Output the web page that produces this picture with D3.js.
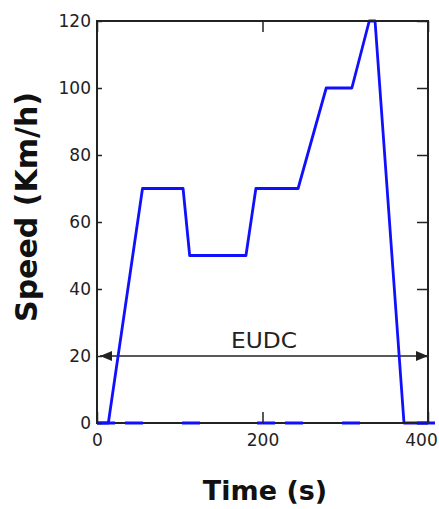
<!DOCTYPE html>
<html>
<head>
<meta charset="utf-8">
<script src="https://cdn.jsdelivr.net/npm/d3@7"></script>
<style>
  html, body { margin: 0; padding: 0; background: #fff; }
  svg { display: block; font-family: "DejaVu Sans", sans-serif; }
</style>
</head>
<body>
<svg id="chart" width="439" height="509"></svg>
<script>
// ---- data ----
const timeS  = [0, 13.7, 55, 104, 112, 180, 192, 243, 277, 308, 329, 336, 371, 400];
const speedKmh = [0, 0, 70, 70, 50, 50, 70, 70, 100, 100, 120, 120, 0, 0];
const xTicks = [0, 200, 400];
const yTicks = [0, 20, 40, 60, 80, 100, 120];
const arrowSpeed = 20;
const arrowLabel = "EUDC";
const xTitle = "Time (s)";
const yTitle = "Speed (Km/h)";

// ---- layout ----
const svg = d3.select("#chart");
const L = 97, R = 428, T = 21, B = 423;
const x = d3.scaleLinear().domain([0, 400]).range([L, R]);
const y = d3.scaleLinear().domain([0, 120]).range([B, T]);
const ink = "#222";

// arrow markers
const defs = svg.append("defs");
defs.append("marker").attr("id", "ahEnd")
  .attr("viewBox", "0 0 12 10").attr("refX", 12).attr("refY", 5)
  .attr("markerWidth", 12).attr("markerHeight", 10)
  .attr("markerUnits", "userSpaceOnUse").attr("orient", "auto")
  .append("path").attr("d", "M0,0L12,5L0,10Z").attr("fill", ink);
defs.append("marker").attr("id", "ahStart")
  .attr("viewBox", "0 0 12 10").attr("refX", 0).attr("refY", 5)
  .attr("markerWidth", 12).attr("markerHeight", 10)
  .attr("markerUnits", "userSpaceOnUse").attr("orient", "auto")
  .append("path").attr("d", "M12,0L0,5L12,10Z").attr("fill", ink);

// EUDC double arrow
svg.append("line")
  .attr("x1", x(0) + 3).attr("x2", x(400))
  .attr("y1", y(arrowSpeed)).attr("y2", y(arrowSpeed))
  .attr("stroke", ink).attr("stroke-width", 1.6)
  .attr("marker-start", "url(#ahStart)")
  .attr("marker-end", "url(#ahEnd)");

svg.append("text")
  .attr("x", x(200) + 1.5).attr("y", y(arrowSpeed) - 8)
  .attr("text-anchor", "middle")
  .attr("font-size", 21).attr("fill", ink)
  .attr("textLength", 66).attr("lengthAdjust", "spacingAndGlyphs")
  .text(arrowLabel);

// speed trace
const pts = timeS.map((t, i) => [t, speedKmh[i]]);
svg.append("path")
  .datum(pts)
  .attr("fill", "none")
  .attr("stroke", "#1010ff")
  .attr("stroke-width", 2.8)
  .attr("stroke-linejoin", "round")
  .attr("d", d3.line().x(d => x(d[0])).y(d => y(d[1])));

// frame
svg.append("rect")
  .attr("x", L).attr("y", T).attr("width", R - L).attr("height", B - T)
  .attr("fill", "none").attr("stroke", ink).attr("stroke-width", 2);

// blue zero-level trace peeking over the x axis
svg.append("line")
  .attr("x1", x(0)).attr("x2", x(400) + 7)
  .attr("y1", y(0)).attr("y2", y(0))
  .attr("stroke", "#1010ff").attr("stroke-width", 2.8)
  .attr("stroke-dasharray", "18,39,18,57,18,10")
  .attr("stroke-dashoffset", 132);

// axes
const styleAxis = g => {
  g.select(".domain").remove();
  g.selectAll(".tick line").attr("stroke", ink).attr("stroke-width", 1.5);
  g.selectAll(".tick text").attr("fill", ink).attr("font-size", 17)
    .attr("font-family", "DejaVu Sans, sans-serif");
};

svg.append("g").attr("transform", `translate(${L},0)`)
  .call(d3.axisLeft(y).tickValues(yTicks).tickSize(-5).tickPadding(6).tickFormat(d3.format("d")))
  .call(styleAxis);

svg.append("g").attr("transform", `translate(${R},0)`)
  .call(d3.axisRight(y).tickValues(yTicks).tickSize(-11).tickFormat(""))
  .call(styleAxis);

const xAxisG = svg.append("g").attr("transform", `translate(0,${B})`)
  .call(d3.axisBottom(x).tickValues(xTicks).tickSize(-11).tickPadding(11).tickFormat(d3.format("d")))
  .call(styleAxis);
// keep the last label inside the window
xAxisG.selectAll(".tick text").filter(d => d === 400).attr("dx", -7);

svg.append("g").attr("transform", `translate(0,${T})`)
  .call(d3.axisTop(x).tickValues(xTicks).tickSize(-11).tickFormat(""))
  .call(styleAxis);

// titles
svg.append("text")
  .attr("x", 265).attr("y", 500)
  .attr("text-anchor", "middle")
  .attr("font-size", 27).attr("font-weight", "bold").attr("fill", "#111")
  .text(xTitle);

svg.append("text")
  .attr("transform", "translate(37,207) rotate(-90)")
  .attr("text-anchor", "middle")
  .attr("font-size", 30).attr("font-weight", "bold").attr("fill", "#111")
  .text(yTitle);
</script>
</body>
</html>
